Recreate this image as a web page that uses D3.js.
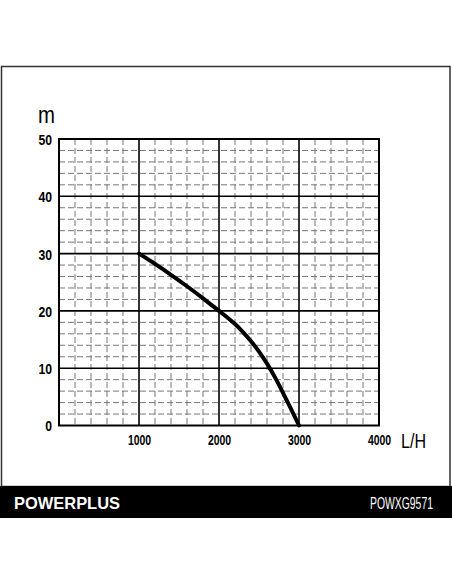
<!DOCTYPE html>
<html><head><meta charset="utf-8">
<script src="https://cdn.jsdelivr.net/npm/d3@7"></script>
<style>body{margin:0;background:#fff}svg{display:block}</style>
</head><body>
<script>
const flowTicks = [1000, 2000, 3000, 4000];
const headTicks = [0, 10, 20, 30, 40, 50];
const flow = [1000, 1200, 1400, 1600, 1800, 2000, 2100, 2200, 2300, 2400, 2500, 2600, 2700, 2800, 2900, 3000];
const head = [30, 28.2, 26.3, 24.3, 22.2, 20, 18.9, 17.7, 16.3, 14.7, 12.9, 10.8, 8.4, 5.7, 2.9, 0];
const brand = "POWERPLUS";
const model = "POWXG9571";

const W = 452, H = 584;
const svg = d3.select("body").append("svg").attr("width", W).attr("height", H);
svg.append("rect").attr("width", W).attr("height", H).attr("fill", "#fff");

// outer frame
svg.append("rect").attr("x", 1.5).attr("y", 66.5).attr("width", 448.5).attr("height", 420)
  .attr("fill", "none").attr("stroke", "#333").attr("stroke-width", 1.5);
// bottom band
svg.append("rect").attr("x", 0).attr("y", 486).attr("width", W).attr("height", 32).attr("fill", "#000");
svg.append("text").attr("x", 14).attr("y", 509).attr("fill", "#fff")
  .attr("font-family", "Liberation Sans, Arial, sans-serif").attr("font-weight", "bold")
  .attr("font-size", 16.5).attr("textLength", 106).attr("lengthAdjust", "spacingAndGlyphs").text(brand);
svg.append("text").attr("transform", "translate(370,509) scale(0.65,1)").attr("fill", "#fff")
  .attr("font-family", "Liberation Sans, Arial, sans-serif")
  .attr("font-size", 16).text(model);

const x = d3.scaleLinear().domain([0, 4000]).range([59, 379]);
const y = d3.scaleLinear().domain([0, 50]).range([425.5, 139]);

const g = svg.append("g");
// minor grid
const minorX = d3.range(200, 4000, 200).filter(v => v % 1000 !== 0);
const minorY = d3.range(2, 50, 2).filter(v => v % 10 !== 0);
g.selectAll(".mx").data(minorX).join("line")
  .attr("x1", d => x(d)).attr("x2", d => x(d)).attr("y1", y(50)).attr("y2", y(0))
  .attr("stroke", "#777").attr("stroke-width", 1).attr("stroke-dasharray", "6,3");
g.selectAll(".my").data(minorY).join("line")
  .attr("y1", d => y(d)).attr("y2", d => y(d)).attr("x1", x(0)).attr("x2", x(4000))
  .attr("stroke", "#777").attr("stroke-width", 1).attr("stroke-dasharray", "6,3");
// major grid
g.selectAll(".Mx").data(flowTicks.slice(0, 3)).join("line")
  .attr("x1", d => x(d)).attr("x2", d => x(d)).attr("y1", y(50)).attr("y2", y(0))
  .attr("stroke", "#000").attr("stroke-width", 1.6);
g.selectAll(".My").data(headTicks.slice(1, 5)).join("line")
  .attr("y1", d => y(d)).attr("y2", d => y(d)).attr("x1", x(0)).attr("x2", x(4000))
  .attr("stroke", "#000").attr("stroke-width", 1.6);
g.append("rect").attr("x", x(0)).attr("y", y(50)).attr("width", x(4000) - x(0)).attr("height", y(0) - y(50))
  .attr("fill", "none").attr("stroke", "#000").attr("stroke-width", 2);

// axes (labels only)
const tickFont = "Liberation Sans Narrow, Arial Narrow, sans-serif";
const ay = svg.append("g").attr("transform", `translate(${x(0)},0)`)
  .call(d3.axisLeft(y).tickValues(headTicks).tickFormat(d3.format("d")).tickSize(0).tickPadding(7));
ay.select(".domain").remove();
ay.selectAll("text").attr("font-family", tickFont).attr("font-weight", "bold").attr("font-size", 15)
  .attr("fill", "#000").attr("dy", "0.36em")
  .attr("textLength", d => String(d).length * 6.8).attr("lengthAdjust", "spacingAndGlyphs");
const ax = svg.append("g").attr("transform", `translate(0,${y(0)})`)
  .call(d3.axisBottom(x).tickValues(flowTicks).tickFormat(d3.format("d")).tickSize(0).tickPadding(8));
ax.select(".domain").remove();
ax.selectAll("text").attr("font-family", tickFont).attr("font-weight", "bold").attr("font-size", 15.5)
  .attr("fill", "#000")
  .attr("textLength", d => String(d).length * 5.8).attr("lengthAdjust", "spacingAndGlyphs");

svg.append("text").attr("x", 38).attr("y", 123).attr("font-family", tickFont)
  .attr("font-size", 24).attr("fill", "#000").attr("textLength", 17).attr("lengthAdjust", "spacingAndGlyphs").text("m");
svg.append("text").attr("x", 401).attr("y", 448).attr("font-family", tickFont)
  .attr("font-size", 21).attr("fill", "#000").attr("textLength", 25).attr("lengthAdjust", "spacingAndGlyphs").text("L/H");

// curve
const pts = flow.map((f, i) => [f, head[i]]);
svg.append("path").datum(pts)
  .attr("d", d3.line().x(d => x(d[0])).y(d => y(d[1])).curve(d3.curveMonotoneX))
  .attr("fill", "none").attr("stroke", "#000").attr("stroke-width", 4).attr("stroke-linecap", "round");
</script>
</body></html>
